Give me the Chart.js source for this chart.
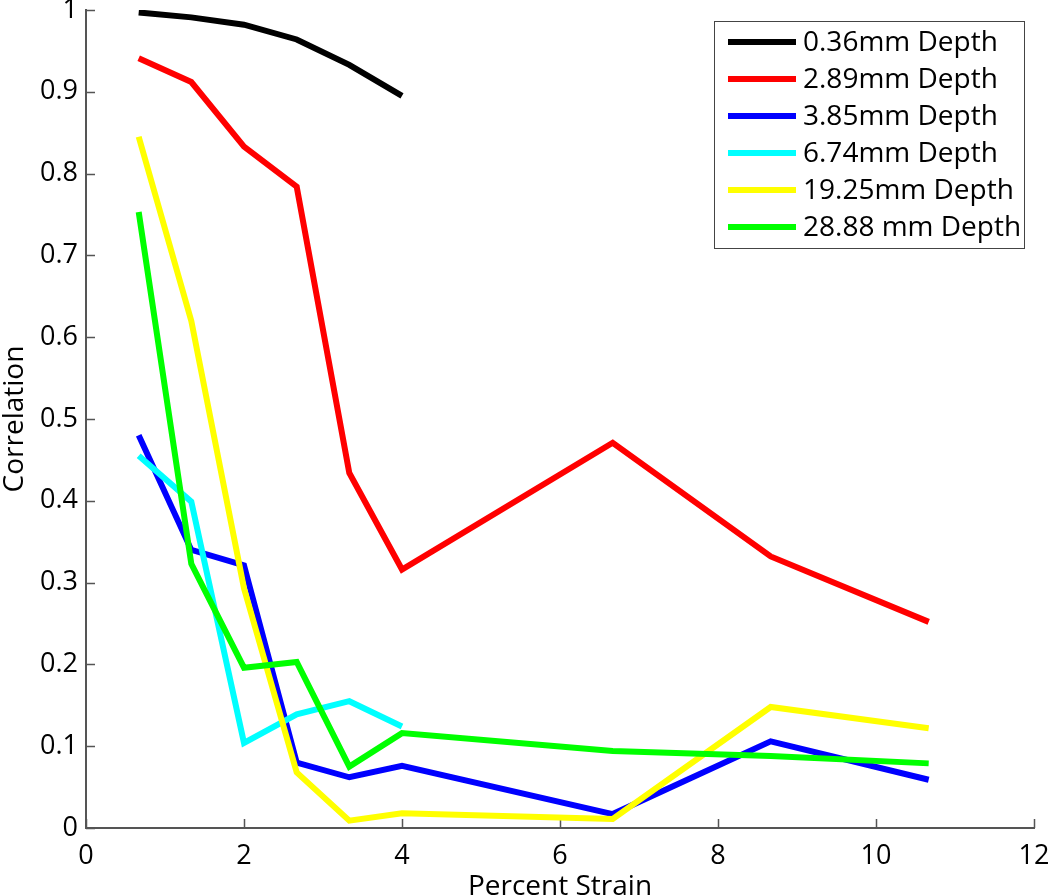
<!DOCTYPE html>
<html>
<head>
<meta charset="utf-8">
<script src="https://cdn.jsdelivr.net/npm/chart.js@4"></script>
<style>
  html, body { margin: 0; padding: 0; background: #fff; }
  #wrap { width: 1050px; height: 896px; }
</style>
</head>
<body>
<div id="wrap"><canvas id="graph1"></canvas></div>
<script>
// percent strain (x)
const strain = [0.667, 1.333, 2, 2.667, 3.333, 4, 6.667, 8.667, 10.667];

// correlation per depth
const depth036 = [0.997, 0.991, 0.982, 0.964, 0.933, 0.895];
const depth289 = [0.941, 0.912, 0.833, 0.784, 0.434, 0.316, 0.471, 0.332, 0.252];
const depth385 = [0.480, 0.340, 0.321, 0.080, 0.062, 0.076, 0.017, 0.106, 0.059];
const depth674 = [0.455, 0.399, 0.104, 0.139, 0.155, 0.124];
const depth1925 = [0.845, 0.620, 0.293, 0.068, 0.009, 0.018, 0.011, 0.148, 0.122];
const depth2888 = [0.753, 0.323, 0.196, 0.203, 0.075, 0.116, 0.094, 0.088, 0.079];

const seriesLabels = ['0.36mm Depth', '2.89mm Depth', '3.85mm Depth', '6.74mm Depth', '19.25mm Depth', '28.88 mm Depth'];
const seriesColors = ['#000000', '#ff0000', '#0000ff', '#00ffff', '#ffff00', '#00ff00'];
const seriesValues = [depth036, depth289, depth385, depth674, depth1925, depth2888];

const xTicks = [0, 2, 4, 6, 8, 10, 12];
const yTicks = [0, 0.1, 0.2, 0.3, 0.4, 0.5, 0.6, 0.7, 0.8, 0.9, 1];

const FONT = "'Open Sans', 'DejaVu Sans', sans-serif";

// matlab style ticks pointing into the plot
const innerTicks = {
    id: 'innerTicks',
    beforeDatasetsDraw(chart) {
        const ctx = chart.ctx;
        const x = chart.scales.x, y = chart.scales.y;
        const len = 9;
        ctx.save();
        ctx.strokeStyle = '#555';
        ctx.lineWidth = 1.5;
        ctx.beginPath();
        xTicks.forEach(v => {
            const px = Math.round(x.getPixelForValue(v)) + 0.5;
            ctx.moveTo(px, y.bottom);
            ctx.lineTo(px, y.bottom - len);
        });
        yTicks.forEach(v => {
            const py = Math.round(y.getPixelForValue(v)) + 0.5;
            ctx.moveTo(x.left, py);
            ctx.lineTo(x.left + len, py);
        });
        ctx.stroke();
        ctx.restore();
    }
};

// legend box in the upper right corner
const boxLegend = {
    id: 'boxLegend',
    afterDraw(chart) {
        const ctx = chart.ctx;
        const left = 714, top = 21, w = 310, h = 227;
        ctx.save();
        ctx.fillStyle = '#fff';
        ctx.fillRect(left, top, w, h);
        ctx.strokeStyle = '#444';
        ctx.lineWidth = 1;
        ctx.strokeRect(left + 0.5, top + 0.5, w, h);
        ctx.font = '28px ' + FONT;
        ctx.textBaseline = 'middle';
        chart.data.datasets.forEach((ds, i) => {
            const cy = top + 21 + i * 37;
            ctx.strokeStyle = ds.borderColor;
            ctx.lineWidth = 6;
            ctx.beginPath();
            ctx.moveTo(728, cy);
            ctx.lineTo(796, cy);
            ctx.stroke();
            ctx.fillStyle = '#000';
            ctx.fillText(ds.label, 803, cy + 1);
        });
        ctx.restore();
    }
};

const datasets = seriesValues.map((vals, i) => ({
    label: seriesLabels[i],
    data: vals.map((v, j) => ({ x: strain[j], y: v })),
    borderColor: seriesColors[i],
    backgroundColor: seriesColors[i],
    borderWidth: 6,
    pointRadius: 0,
    tension: 0,
    fill: false,
    order: seriesValues.length - i,
}));

const config = {
    type: 'line',
    data: { datasets: datasets },
    options: {
        responsive: false,
        animation: false,
        layout: { padding: 0 },
        scales: {
            x: {
                type: 'linear',
                min: 0,
                max: 12,
                afterBuildTicks: s => { s.ticks = xTicks.map(v => ({ value: v })); },
                afterFit: s => { s.height = 68; s.paddingLeft = 0; s.paddingRight = 16; },
                grid: { display: false, drawTicks: false },
                border: { display: true, color: '#555', width: 2 },
                ticks: {
                    color: '#000',
                    padding: 12,
                    maxRotation: 0,
                    font: { family: FONT, size: 27 },
                },
                title: {
                    display: true,
                    text: 'Percent Strain',
                    color: '#000',
                    padding: { top: 0, bottom: 0 },
                    font: { family: FONT, size: 28, lineHeight: 0.63 },
                }
            },
            y: {
                min: 0,
                max: 1,
                afterBuildTicks: s => { s.ticks = yTicks.map(v => ({ value: v })); },
                afterFit: s => { s.width = 86; s.paddingTop = 10; s.paddingBottom = 0; },
                grid: { display: false, drawTicks: false },
                border: { display: true, color: '#555', width: 2 },
                ticks: {
                    color: '#000',
                    padding: 8,
                    font: { family: FONT, size: 27 },
                    callback: v => String(Math.round(v * 10) / 10),
                },
                title: {
                    display: true,
                    text: 'Correlation',
                    color: '#000',
                    padding: { top: 2, bottom: 0 },
                    font: { family: FONT, size: 28, lineHeight: 0.9 },
                }
            }
        },
        plugins: {
            legend: { display: false },
            tooltip: { enabled: false },
        }
    },
    plugins: [innerTicks, boxLegend]
};

const canvas = document.getElementById('graph1');
canvas.width = 1050;
canvas.height = 896;
const myChart = new Chart(canvas, config);
</script>
</body>
</html>
